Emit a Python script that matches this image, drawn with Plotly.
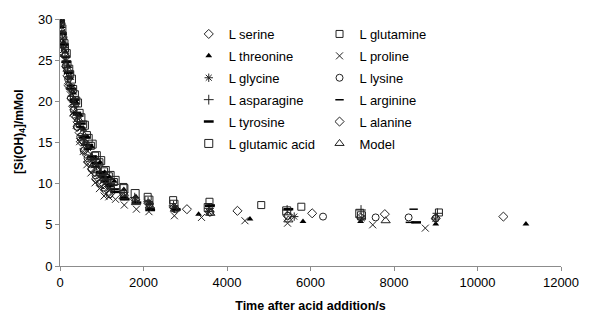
import plotly.graph_objects as go

# ---- data (time in s, concentration in mMol) ----
serine_t = [0, 45, 95, 150, 210, 275, 345, 420, 500, 585, 675, 770, 870, 975, 1085, 1200, 1530, 2120, 3040, 4250, 6040, 10620]
serine_v = [29.8, 28.1, 25.8, 24.2, 21.9, 20.4, 18.3, 16.9, 15.1, 14.1, 12.6, 11.8, 10.6, 10.1, 9.2, 8.8, 8.6, 7.6, 6.9, 6.7, 6.4, 6.0]

glutamine_t = [15, 65, 120, 180, 245, 315, 390, 470, 555, 645, 740, 840, 945, 1055, 1170, 1290, 1520, 2100, 2710, 3580, 4820, 5780, 9076]
glutamine_v = [29.6, 28.0, 26.4, 24.5, 23.3, 21.5, 20.1, 18.6, 17.2, 15.9, 14.6, 13.4, 12.6, 11.5, 10.9, 10.2, 9.6, 8.4, 8.0, 7.8, 7.4, 7.2, 6.5]

threonine_t = [5, 30, 80, 135, 195, 260, 330, 405, 485, 570, 660, 755, 855, 960, 1070, 1185, 1300, 1530, 1820, 2150, 2760, 3320, 4550, 5820, 7200, 9000, 11160]
threonine_v = [29.9, 29.1, 27.2, 26.0, 24.3, 22.8, 21.0, 19.8, 18.3, 16.6, 15.7, 14.5, 13.1, 12.6, 11.4, 10.8, 10.3, 9.3, 8.4, 7.6, 7.0, 6.3, 5.7, 5.4, 5.4, 5.1, 5.1]

proline_t = [15, 65, 120, 180, 245, 315, 390, 470, 555, 645, 740, 840, 945, 1055, 1170, 1330, 1540, 1830, 2130, 2740, 3390, 4430, 5450, 7490, 8750]
proline_v = [29.4, 27.0, 25.1, 22.5, 20.8, 18.6, 17.1, 15.1, 13.9, 12.3, 11.3, 10.1, 9.4, 8.5, 8.4, 8.1, 7.4, 6.9, 6.6, 6.1, 5.9, 5.5, 5.2, 5.0, 4.6]

glycine_t = [0, 45, 95, 150, 210, 275, 345, 420, 500, 585, 675, 770, 870, 975, 1085, 1200, 1540, 1810, 2140, 2740, 3560, 5610, 7230, 8990]
glycine_v = [29.9, 28.4, 26.5, 24.9, 23.0, 21.6, 19.6, 18.0, 16.8, 15.2, 14.3, 12.9, 12.1, 11.0, 10.4, 9.6, 8.5, 8.0, 7.5, 7.0, 6.6, 6.0, 5.8, 5.7]

lysine_t = [5, 30, 80, 135, 195, 260, 330, 405, 485, 570, 660, 755, 855, 960, 1070, 1185, 1530, 1820, 2150, 2760, 3600, 5460, 6300, 7560, 8350, 9000]
lysine_v = [29.8, 28.5, 26.8, 24.3, 22.7, 20.4, 18.9, 16.9, 15.7, 14.0, 13.1, 11.8, 11.0, 10.0, 9.5, 8.7, 8.8, 8.0, 7.5, 6.9, 6.5, 6.1, 6.0, 5.9, 5.9, 5.8]

asparagine_t = [15, 65, 120, 180, 245, 315, 390, 470, 555, 645, 740, 840, 945, 1055, 1170, 1300, 1790, 2110, 2720, 3570, 5440, 7210, 9040]
asparagine_v = [29.5, 27.8, 25.5, 24.1, 22.0, 20.6, 18.7, 17.3, 15.6, 14.7, 13.2, 12.5, 11.3, 10.6, 9.9, 9.4, 8.3, 7.8, 7.3, 7.0, 6.8, 6.8, 6.4]

arginine_t = [5, 30, 80, 135, 195, 260, 330, 405, 485, 570, 660, 755, 855, 960, 1070, 1185, 1310, 1540, 2170, 2790, 3610, 8380, 8470]
arginine_v = [29.8, 29.0, 26.9, 25.4, 23.4, 21.9, 19.9, 18.6, 16.9, 15.8, 14.2, 13.3, 12.0, 11.3, 10.3, 9.7, 9.3, 8.3, 7.0, 6.8, 7.4, 5.3, 6.9]

tyrosine_t = [0, 45, 95, 150, 210, 275, 345, 420, 500, 585, 675, 770, 870, 975, 1085, 1200, 1320, 1550, 1830, 2160, 2770, 3590, 5470, 8530]
tyrosine_v = [29.7, 28.2, 26.9, 24.8, 23.5, 21.5, 20.2, 18.4, 17.3, 15.6, 14.7, 13.3, 12.5, 11.4, 10.8, 9.9, 9.0, 8.1, 7.7, 6.8, 6.9, 7.3, 6.9, 5.3]

alanine_t = [15, 65, 120, 180, 245, 315, 390, 470, 555, 645, 740, 840, 945, 1055, 1170, 1520, 1800, 2730, 3580, 5450, 7200, 7780, 9000]
alanine_v = [29.4, 27.1, 25.5, 23.1, 21.6, 19.4, 18.1, 16.2, 15.1, 13.5, 12.6, 11.4, 10.5, 9.9, 9.1, 8.9, 8.1, 7.1, 6.6, 6.1, 5.9, 6.3, 5.8]

glutamic_t = [0, 45, 95, 150, 210, 275, 345, 420, 500, 585, 675, 770, 870, 975, 1085, 1200, 1320, 1530, 1800, 2130, 2730, 3550, 5430, 7180, 7220]
glutamic_v = [29.6, 28.8, 27.0, 25.8, 23.9, 22.7, 20.8, 19.8, 18.0, 17.1, 15.5, 14.8, 13.4, 12.8, 11.6, 11.0, 10.4, 9.4, 8.8, 8.0, 7.5, 7.1, 6.7, 6.4, 6.1]

model_t = [0, 60, 120, 180, 260, 350, 440, 540, 620, 750, 850, 960, 1080, 1220, 1520, 1820, 2150, 2750, 3600, 5470, 7800]
model_v = [30.0, 27.8, 25.7, 23.9, 21.7, 19.6, 17.8, 16.1, 14.9, 13.2, 12.2, 11.2, 10.4, 9.6, 8.4, 7.7, 7.3, 6.9, 6.4, 5.6, 5.5]

x_ticks = [0, 2000, 4000, 6000, 8000, 10000, 12000]
y_ticks = [0, 5, 10, 15, 20, 25, 30]

INK = "#222222"
series = [
    ("L serine", serine_t, serine_v, "diamond-open", 7, 1, INK, "legend"),
    ("L threonine", threonine_t, threonine_v, "triangle-up", 6, 0, "#000000", "legend"),
    ("L glycine", glycine_t, glycine_v, "asterisk-open", 7, 1, INK, "legend"),
    ("L asparagine", asparagine_t, asparagine_v, "cross-thin-open", 7, 1, INK, "legend"),
    ("L tyrosine", tyrosine_t, tyrosine_v, "line-ew-open", 7, 2.5, "#000000", "legend"),
    ("L glutamic acid", glutamic_t, glutamic_v, "square-open", 8, 1, INK, "legend"),
    ("L glutamine", glutamine_t, glutamine_v, "square-open", 7, 1, INK, "legend2"),
    ("L proline", proline_t, proline_v, "x-thin-open", 7, 1, INK, "legend2"),
    ("L lysine", lysine_t, lysine_v, "circle-open", 7, 1, INK, "legend2"),
    ("L arginine", arginine_t, arginine_v, "line-ew-open", 6, 1.5, "#000000", "legend2"),
    ("L alanine", alanine_t, alanine_v, "diamond-open", 7, 1, INK, "legend2"),
    ("Model", model_t, model_v, "triangle-up-open", 8, 1, INK, "legend2"),
]

fig = go.Figure()
for i, (name, t, v, sym, size, lw, col, leg) in enumerate(series):
    fig.add_trace(go.Scatter(
        x=t, y=v, mode="markers", name=name, legend=leg, legendgroup=f"g{i}",
        marker=dict(symbol=sym, size=size, color=col,
                    line=dict(width=lw, color=col)),
    ))

FONT = "Arial, Liberation Sans, sans-serif"
leg_common = dict(
    font=dict(family=FONT, size=13, color="#000"),
    bgcolor="rgba(0,0,0,0)", borderwidth=0, tracegroupgap=2,
    orientation="v", xanchor="left", yanchor="top", itemwidth=30,
)
fig.update_layout(
    width=591, height=322,
    margin=dict(l=60, r=18, t=15, b=47),
    paper_bgcolor="white", plot_bgcolor="white",
    font=dict(family=FONT, size=13, color="#000"),
    showlegend=True,
    legend=dict(x=0.257, y=1.0, **leg_common),
    legend2=dict(x=0.518, y=1.0, **leg_common),
    xaxis=dict(
        range=[0, 12000], tickvals=x_ticks, ticktext=[str(v) for v in x_ticks],
        showgrid=False, zeroline=False, showline=True, linecolor="#8c8c8c",
        linewidth=1, ticks="outside", ticklen=4, tickcolor="#8c8c8c",
        tickfont=dict(size=13), ticklabeloverflow="allow",
        title=dict(text="<b>Time after acid addition/s</b>", font=dict(size=12.5), standoff=12),
    ),
    yaxis=dict(
        range=[0, 30], tickvals=y_ticks,
        showgrid=False, zeroline=False, showline=True, linecolor="#8c8c8c",
        linewidth=1, ticks="outside", ticklen=4, tickcolor="#8c8c8c",
        tickfont=dict(size=13), ticklabeloverflow="allow",
    ),
    annotations=[dict(
        text="<b>[Si(OH)<sub>4</sub>]/mMol</b>", textangle=-90,
        xref="paper", yref="paper", x=-0.08, y=0.546,
        xanchor="center", yanchor="middle", showarrow=False,
        font=dict(family=FONT, size=12, color="#000"),
    )],
)

fig.write_html("out.html")
